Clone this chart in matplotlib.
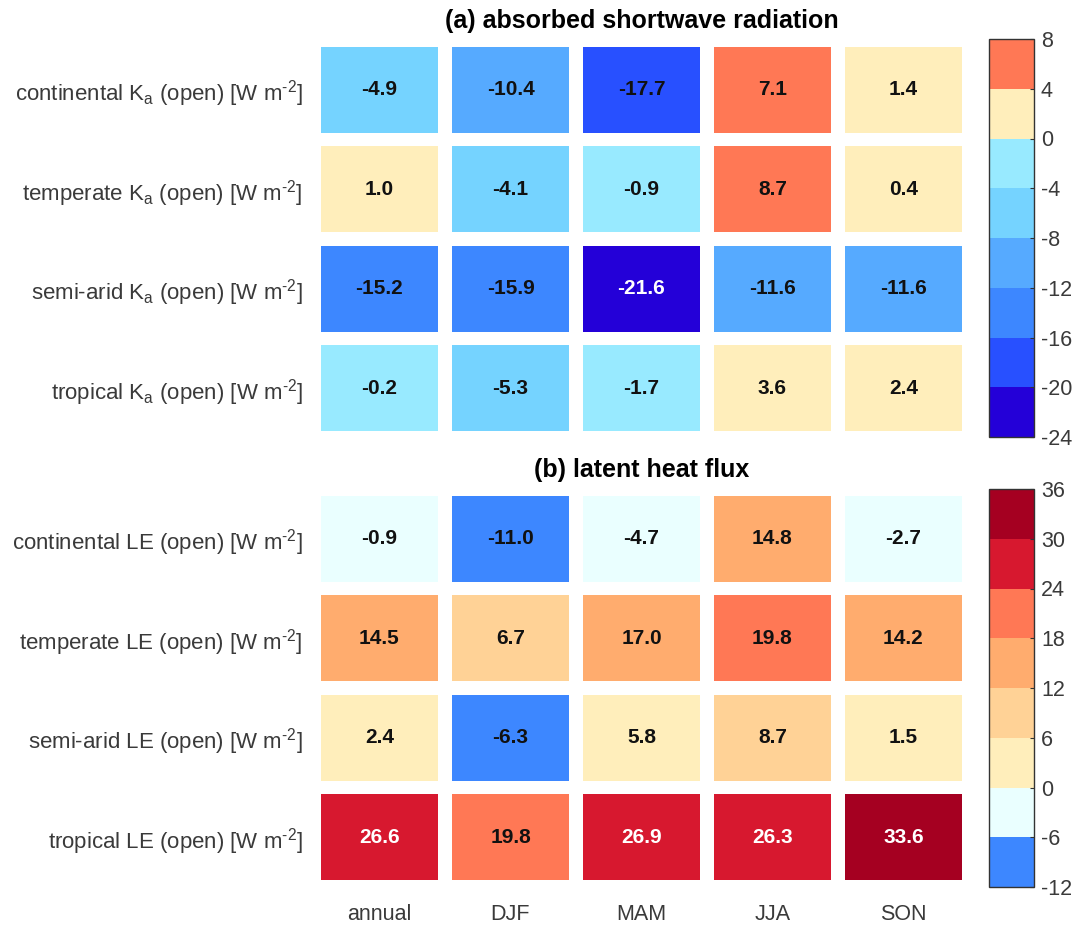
import numpy as np
import matplotlib
matplotlib.use("Agg")
import matplotlib.pyplot as plt
from matplotlib.colors import ListedColormap, BoundaryNorm
from matplotlib.patches import Rectangle
from matplotlib.cm import ScalarMappable

plt.rcParams["font.family"] = ["Liberation Sans", "DejaVu Sans"]
plt.rcParams["mathtext.fontset"] = "custom"
plt.rcParams["mathtext.rm"] = "Liberation Sans"
plt.rcParams["mathtext.it"] = "Liberation Sans"

seasons = ["annual", "DJF", "MAM", "JJA", "SON"]
regions = ["continental", "temperate", "semi-arid", "tropical"]

# absorbed shortwave radiation, open-site difference [W m-2]
ka_continental = [-4.9, -10.4, -17.7, 7.1, 1.4]
ka_temperate = [1.0, -4.1, -0.9, 8.7, 0.4]
ka_semiarid = [-15.2, -15.9, -21.6, -11.6, -11.6]
ka_tropical = [-0.2, -5.3, -1.7, 3.6, 2.4]

# latent heat flux, open-site difference [W m-2]
le_continental = [-0.9, -11.0, -4.7, 14.8, -2.7]
le_temperate = [14.5, 6.7, 17.0, 19.8, 14.2]
le_semiarid = [2.4, -6.3, 5.8, 8.7, 1.5]
le_tropical = [26.6, 19.8, 26.9, 26.3, 33.6]

ka_bounds = [-24, -20, -16, -12, -8, -4, 0, 4, 8]
le_bounds = [-12, -6, 0, 6, 12, 18, 24, 30, 36]

ka_colors = ["#2400D8", "#2850FF", "#3D87FF", "#56AAFF",
             "#75D3FF", "#98EAFF", "#FFEEBB", "#FF7855"]
le_colors = ["#3D87FF", "#EAFFFF", "#FFEEBB", "#FFD296",
             "#FFAC6E", "#FF7855", "#D7182F", "#A50021"]

W, H = 1081, 927
fig = plt.figure(figsize=(W / 100, H / 100), dpi=100)

LABEL_FS = 15.5
YLABEL_FS = 16
TEXT_C = "#3a3a3a"


def fax(x0, y0, x1, y1):
    return fig.add_axes([x0 / W, 1 - y1 / H, (x1 - x0) / W, (y1 - y0) / H])


def panel(ax, cax, rows, labels, bounds, colors, title, white_above, show_x):
    cmap = ListedColormap(colors)
    norm = BoundaryNorm(bounds, cmap.N)
    data = np.array(rows)
    nr, nc = data.shape
    cw, ch = 0.89, 0.865
    for i in range(nr):
        for j in range(nc):
            v = data[i, j]
            ax.add_patch(Rectangle((j - cw / 2, i - ch / 2), cw, ch,
                                   facecolor=cmap(norm(v)), edgecolor="none"))
            white = (v >= white_above) if white_above > 0 else (v <= white_above)
            ax.text(j, i, f"{v:.1f}", ha="center", va="center",
                    fontsize=15, fontweight="bold",
                    color="white" if white else "#111111")
    ax.set_xlim(-0.5, nc - 0.5)
    ax.set_ylim(nr - 0.5, -0.5)
    for s in ax.spines.values():
        s.set_visible(False)
    ax.set_yticks(range(nr))
    ax.set_yticklabels(labels, fontsize=YLABEL_FS, color=TEXT_C)
    ax.tick_params(axis="y", length=0, pad=8)
    if show_x:
        ax.set_xticks(range(nc))
        ax.set_xticklabels(seasons, fontsize=LABEL_FS, color=TEXT_C)
        ax.tick_params(axis="x", length=0, pad=12)
    else:
        ax.set_xticks([])
    ax.set_title(title, fontsize=18, fontweight="bold", pad=8.5)

    sm = ScalarMappable(norm=norm, cmap=cmap)
    cb = fig.colorbar(sm, cax=cax, ticks=bounds)
    cb.outline.set_edgecolor("#333333")
    cb.outline.set_linewidth(1.0)
    cax.tick_params(direction="in", length=3, width=0.8, color="#333333",
                    labelsize=LABEL_FS, labelcolor=TEXT_C, pad=5)
    cax.set_yticklabels([str(b) for b in bounds])


ax_a = fax(314, 40, 969, 438)
cax_a = fax(989, 39, 1034, 437)
ka_labels = [f"{r} K$_{{a}}$ (open) [W m$^{{\\text{{-}}2}}$]" for r in regions]
panel(ax_a, cax_a, [ka_continental, ka_temperate, ka_semiarid, ka_tropical],
      ka_labels, ka_bounds, ka_colors, "(a) absorbed shortwave radiation",
      -20, False)

ax_b = fax(314, 489, 969, 887)
cax_b = fax(989, 489, 1034, 887)
le_labels = [f"{r} LE (open) [W m$^{{\\text{{-}}2}}$]" for r in regions]
panel(ax_b, cax_b, [le_continental, le_temperate, le_semiarid, le_tropical],
      le_labels, le_bounds, le_colors, "(b) latent heat flux",
      24, True)

fig.savefig("out.png", dpi=100, facecolor="white")
